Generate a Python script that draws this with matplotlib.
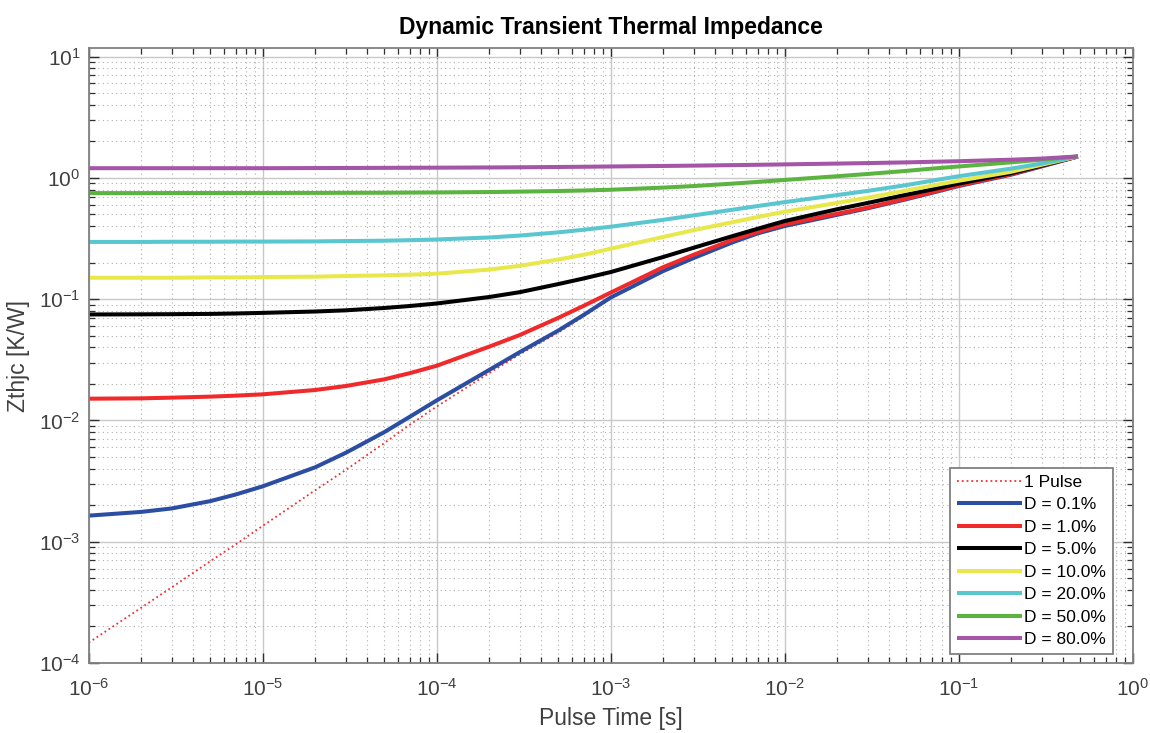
import matplotlib
matplotlib.use("Agg")
import matplotlib.pyplot as plt
from matplotlib.ticker import LogLocator, NullFormatter
import numpy as np

# pulse times [s]
t = [1e-6, 2e-6, 3e-6, 5e-6, 7e-6,
     1e-5, 2e-5, 3e-5, 5e-5, 7e-5,
     1e-4, 2e-4, 3e-4, 5e-4, 7e-4,
     1e-3, 2e-3, 3e-3, 5e-3, 7e-3,
     1e-2, 2e-2, 3e-2, 5e-2, 7e-2,
     0.1, 0.2, 0.3, 0.485]

# Zthjc [K/W] per curve
z_pulse = [1.47e-4, 2.85e-4, 4.2e-4, 6.9e-4, 9.5e-4,
           1.35e-3, 2.65e-3, 3.9e-3, 6.5e-3, 9.2e-3,
           1.30e-2, 2.45e-2, 3.5e-2, 5.3e-2, 7.2e-2,
           0.101, 0.168, 0.215, 0.29, 0.345,
           0.395, 0.49, 0.555, 0.66, 0.745,
           0.85, 1.055, 1.235, 1.5]
z_d01 = [1.64e-3, 1.76e-3, 1.88e-3, 2.16e-3, 2.45e-3,
         2.86e-3, 4.1e-3, 5.4e-3, 8.0e-3, 1.07e-2,
         1.46e-2, 2.6e-2, 3.65e-2, 5.5e-2, 7.4e-2,
         0.103, 0.17, 0.218, 0.293, 0.348,
         0.40, 0.495, 0.56, 0.665, 0.75,
         0.855, 1.06, 1.24, 1.5]
z_d1 = [1.51e-2, 1.52e-2, 1.54e-2, 1.57e-2, 1.60e-2,
        1.64e-2, 1.78e-2, 1.92e-2, 2.18e-2, 2.45e-2,
        2.82e-2, 4.05e-2, 5.05e-2, 7.0e-2, 8.8e-2,
        0.113, 0.183, 0.232, 0.307, 0.358,
        0.413, 0.505, 0.568, 0.675, 0.76,
        0.865, 1.07, 1.25, 1.5]
z_d5 = [0.0747, 0.0749, 0.0751, 0.0755, 0.0761,
        0.077, 0.079, 0.0808, 0.0845, 0.0877,
        0.092, 0.104, 0.114, 0.133, 0.148,
        0.167, 0.222, 0.265, 0.33, 0.38,
        0.44, 0.55, 0.62, 0.725, 0.80,
        0.895, 1.09, 1.26, 1.5]
z_d10 = [0.150, 0.150, 0.150, 0.151, 0.151,
         0.152, 0.153, 0.155, 0.157, 0.159,
         0.162, 0.175, 0.188, 0.212, 0.232,
         0.26, 0.325, 0.37, 0.43, 0.475,
         0.525, 0.62, 0.685, 0.785, 0.86,
         0.945, 1.12, 1.28, 1.5]
z_d20 = [0.296, 0.296, 0.297, 0.297, 0.298,
         0.298, 0.299, 0.301, 0.303, 0.306,
         0.31, 0.322, 0.334, 0.355, 0.373,
         0.395, 0.45, 0.49, 0.545, 0.585,
         0.63, 0.72, 0.78, 0.87, 0.945,
         1.03, 1.19, 1.31, 1.5]
z_d50 = [0.748, 0.748, 0.749, 0.749, 0.75,
         0.75, 0.751, 0.752, 0.753, 0.755,
         0.757, 0.763, 0.769, 0.778, 0.786,
         0.797, 0.83, 0.855, 0.895, 0.925,
         0.96, 1.03, 1.075, 1.14, 1.19,
         1.24, 1.34, 1.41, 1.5]
z_d80 = [1.20, 1.20, 1.20, 1.20, 1.20,
         1.20, 1.203, 1.205, 1.208, 1.21,
         1.212, 1.217, 1.221, 1.228, 1.233,
         1.24, 1.252, 1.26, 1.272, 1.28,
         1.29, 1.31, 1.322, 1.34, 1.355,
         1.37, 1.41, 1.44, 1.5]

labels = ["D = 0.1%", "D = 1.0%", "D = 5.0%", "D = 10.0%",
          "D = 20.0%", "D = 50.0%", "D = 80.0%"]
series = [z_d01, z_d1, z_d5, z_d10, z_d20, z_d50, z_d80]
colors = ["#2b4ea2", "#f02a2a", "#000000", "#e8e84c",
          "#5ac6d0", "#5cb440", "#a455a8"]

plt.rcParams['font.family'] = ['Liberation Sans', 'DejaVu Sans']
plt.rcParams['mathtext.fontset'] = 'custom'
plt.rcParams['mathtext.rm'] = 'Liberation Sans'
plt.rcParams['mathtext.it'] = 'Liberation Sans:italic'

fig = plt.figure(figsize=(11.5, 7.33), dpi=100)
ax = fig.add_axes([0.0771, 0.0955, 0.9077, 0.839])

ax.plot(t, z_pulse, ':', color="#f03030", lw=1.3, label="1 Pulse")
for z, c, l in zip(series, colors, labels):
    ax.plot(t, z, '-', color=c, lw=2.9, label=l,
            solid_capstyle='butt', solid_joinstyle='round')

ax.set_xscale('log')
ax.set_yscale('log')
ax.set_xlim(1e-6, 1)
ax.set_ylim(1e-4, 10 ** 1.07)

ax.xaxis.set_major_locator(LogLocator(base=10, numticks=20))
ax.yaxis.set_major_locator(LogLocator(base=10, numticks=20))
ax.xaxis.set_minor_locator(LogLocator(base=10, subs=np.arange(2, 10), numticks=100))
ax.yaxis.set_minor_locator(LogLocator(base=10, subs=np.arange(2, 10), numticks=100))
ax.xaxis.set_minor_formatter(NullFormatter())
ax.yaxis.set_minor_formatter(NullFormatter())

ax.grid(True, which='major', color='#c8c8c8', lw=1.0, ls='-')
ax.grid(True, which='minor', color='#b0b0b0', lw=0.8, ls=(0, (1, 3)))
ax.set_axisbelow(True)

ax.tick_params(which='both', direction='in', top=True, right=True,
               colors='#303030', labelcolor='#404040')
ax.tick_params(which='major', length=7, width=1.0, labelsize=15)
ax.tick_params(axis='x', which='major', pad=11)
ax.tick_params(axis='y', which='major', pad=6)
ax.tick_params(which='minor', length=4.5, width=0.9)
for s in ax.spines.values():
    s.set_color('#808080')
    s.set_linewidth(1.3)

ax.set_title("Dynamic Transient Thermal Impedance", fontsize=16.5,
             fontweight='bold', pad=10)
ax.set_xlabel("Pulse Time [s]", fontsize=16.5, color='#404040', labelpad=5)
ax.set_ylabel("Zthjc [K/W]", fontsize=16.5, color='#404040', labelpad=6)

leg = ax.legend(loc='lower right', bbox_to_anchor=(0.9813, 0.0146),
                borderaxespad=0, fontsize=12.5, fancybox=False,
                framealpha=1, edgecolor='#808080', handlelength=3.7,
                handletextpad=0.15, labelspacing=0.42, borderpad=0.4)
leg.get_frame().set_linewidth(1.3)

fig.savefig("out.png", dpi=100, facecolor='white')
